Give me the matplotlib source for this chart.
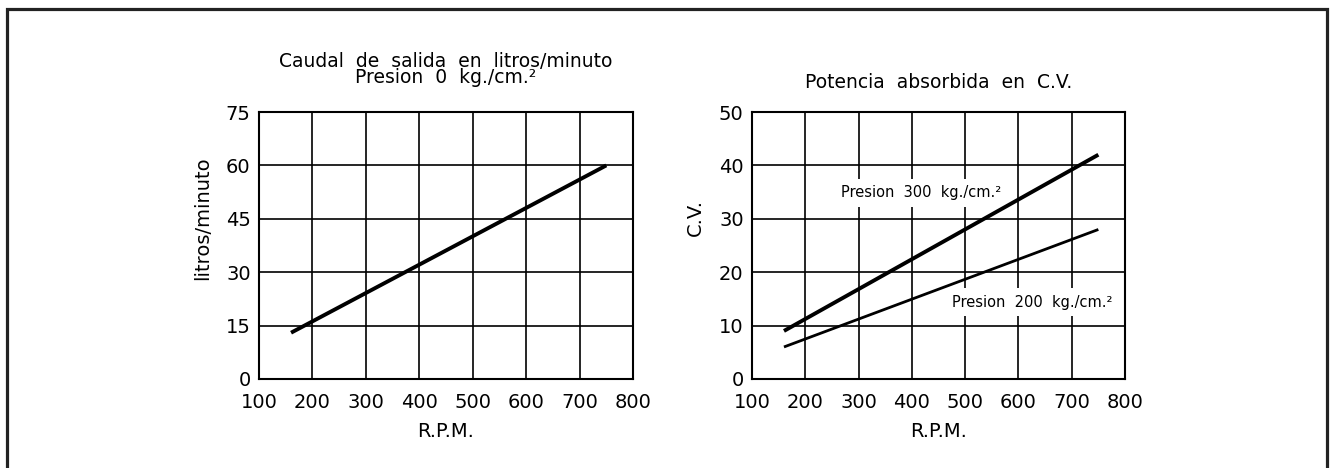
import matplotlib
matplotlib.use("Agg")
import matplotlib.pyplot as plt
from matplotlib.patches import Rectangle

# ---- data ----
rpm = [160, 750]
caudal = [13, 60]
cv_300 = [9, 42]
cv_200 = [6, 28]

x_ticks = [100, 200, 300, 400, 500, 600, 700, 800]
y_ticks_left = [0, 15, 30, 45, 60, 75]
y_ticks_right = [0, 10, 20, 30, 40, 50]

title_left = "Caudal  de  salida  en  litros/minuto\nPresion  0  kg./cm.²"
title_right = "Potencia  absorbida  en  C.V."
ylabel_left = "litros/minuto"
ylabel_right = "C.V."
xlabel = "R.P.M."
label_300 = "Presion  300  kg./cm.²"
label_200 = "Presion  200  kg./cm.²"

plt.rcParams['font.family'] = ['DejaVu Sans']
FS = 14
FT = 13.5

fig = plt.figure(figsize=(13.36, 4.68), dpi=100)
W, H = 1336, 468

# outer frame (bottom edge lies outside the picture)
fig.patches.append(Rectangle((7 / W, -0.1), (1327 - 7) / W, (H - 9) / H + 0.1,
                             transform=fig.transFigure, fill=False,
                             edgecolor='#222222', linewidth=2.3))

ax1 = fig.add_axes([259 / W, (H - 379) / H, 374 / W, 267 / H])
ax2 = fig.add_axes([752 / W, (H - 379) / H, 373 / W, 267 / H])


def style(ax, yticks):
    ax.set_xlim(x_ticks[0], x_ticks[-1])
    ax.set_ylim(yticks[0], yticks[-1])
    ax.set_xticks(x_ticks)
    ax.set_yticks(yticks)
    ax.grid(True, color='black', linewidth=1.2)
    ax.set_axisbelow(True)
    for s in ax.spines.values():
        s.set_linewidth(1.5)
        s.set_color('black')
    ax.tick_params(axis='both', length=0, labelsize=FS, colors='black')
    ax.tick_params(axis='x', pad=10)
    ax.tick_params(axis='y', pad=6)
    ax.text(0.5, -0.217, xlabel, transform=ax.transAxes, ha='center',
            va='baseline', fontsize=FS)


style(ax1, y_ticks_left)
style(ax2, y_ticks_right)

ax1.plot(rpm, caudal, color='black', linewidth=2.8, solid_capstyle='butt',
         zorder=2)
ax1.text(0.5, 1.109, title_left, transform=ax1.transAxes, ha='center',
         va='baseline', multialignment='center', linespacing=0.78,
         fontsize=FT)
ax1.text(-0.15, 0.603, ylabel_left, transform=ax1.transAxes, ha='center',
         va='center', rotation=90, fontsize=FS)

ax2.plot(rpm, cv_300, color='black', linewidth=2.8, solid_capstyle='butt',
         zorder=2)
ax2.plot(rpm, cv_200, color='black', linewidth=2.0, solid_capstyle='butt',
         zorder=2)
ax2.text(0.5, 1.090, title_right, transform=ax2.transAxes, ha='center',
         va='baseline', fontsize=FT)
ax2.text(-0.153, 0.603, ylabel_right, transform=ax2.transAxes, ha='center',
         va='center', rotation=90, fontsize=FS)

box = dict(boxstyle='square,pad=0.45', facecolor='white', edgecolor='none')
ax2.text(417, 34.9, label_300, ha='center', va='center', fontsize=10.5,
         bbox=box, zorder=1.5)
ax2.text(625, 14.4, label_200, ha='center', va='center', fontsize=10.5,
         bbox=box, zorder=1.5)

fig.savefig("out.png", dpi=100, facecolor='white')
